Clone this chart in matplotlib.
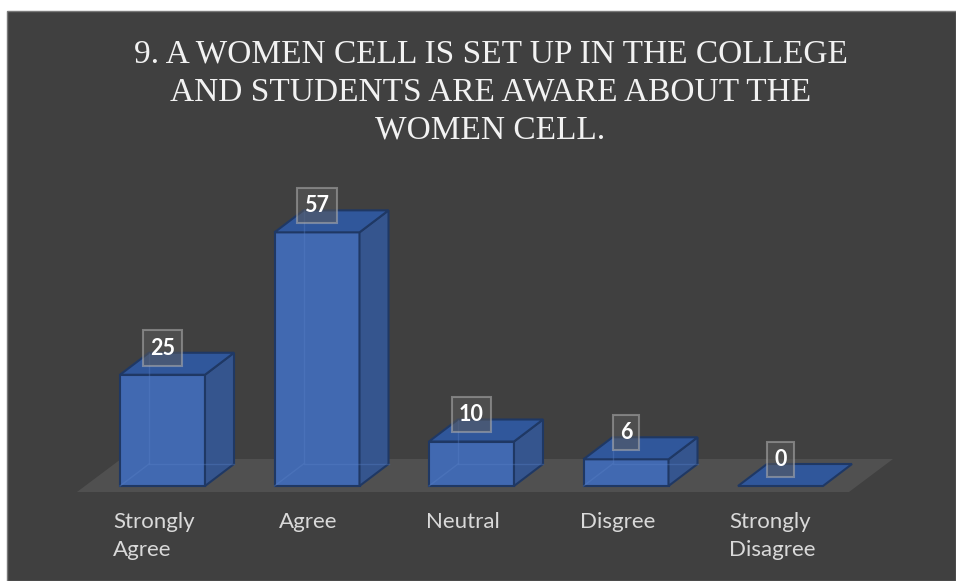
import matplotlib
matplotlib.use("Agg")
import matplotlib.pyplot as plt
from matplotlib.patches import Polygon, Rectangle

# Survey responses
categories = ["Strongly\nAgree", "Agree", "Neutral", "Disgree", "Strongly\nDisagree"]
values = [25, 57, 10, 6, 0]
title = "9. A WOMEN CELL IS SET UP IN THE COLLEGE\nAND STUDENTS ARE AWARE ABOUT THE\nWOMEN CELL."

W, H, DPI = 956, 581, 100
BG = "#404040"
FLOOR = "#505050"
FRONT = "#4169b1"
SIDE = "#35558e"
TOP = "#30579b"
EDGE = "#1f3864"
TEXT = "#d9d9d9"

fig = plt.figure(figsize=(W / DPI, H / DPI), dpi=DPI, facecolor="white")

ax = fig.add_axes([0, 0, 1, 1])
ax.set_facecolor("none")
ax.set_axis_off()

# chart area panel
ax.add_patch(Rectangle((7 / W, 0), 1 - 7 / W, 1 - 11 / H, transform=fig.transFigure,
                       facecolor=BG, edgecolor="#7a7a7a", linewidth=1.0, zorder=0))

# pixel scales: category spacing 154.5 px, 4.45 px per response
step_px, unit_px = 154.5, 4.45
x0_px, base_px = 162.5, H - 486
ax.set_xlim(-x0_px / step_px, (W - x0_px) / step_px)
ax.set_ylim(-base_px / unit_px, (H - base_px) / unit_px)

half_w = 42.5 / step_px               # half bar width
dx, dy = 29 / step_px, 22 / unit_px   # bar depth offsets

# floor plane
f_front, f_back = -6 / unit_px, 27 / unit_px
f_left, f_right = -85.5 / step_px, 686.5 / step_px
f_dx = 44 / step_px
ax.add_patch(Polygon([(f_left, f_front), (f_right, f_front),
                      (f_right + f_dx, f_back), (f_left + f_dx, f_back)],
                     closed=True, facecolor=FLOOR, edgecolor="none", zorder=1))


def bar3d(xc, v):
    l, r = xc - half_w, xc + half_w
    if v <= 0:
        ax.add_patch(Polygon([(l, 0), (r, 0), (r + dx, dy), (l + dx, dy)], closed=True,
                             facecolor=TOP, edgecolor=EDGE, linewidth=1.5, zorder=3))
        return
    # hidden back edges seen through the translucent faces
    ax.plot([l + dx, l + dx, r + dx], [v + dy, dy, dy], color="#5a82c8", lw=1.0,
            alpha=0.35, zorder=4)
    ax.plot([l, l + dx], [0, dy], color="#5a82c8", lw=1.0, alpha=0.35, zorder=4)
    ax.add_patch(Polygon([(l, 0), (r, 0), (r, v), (l, v)], closed=True,
                         facecolor=FRONT, edgecolor=EDGE, linewidth=1.5, zorder=3))
    ax.add_patch(Polygon([(r, 0), (r + dx, dy), (r + dx, v + dy), (r, v)], closed=True,
                         facecolor=SIDE, edgecolor=EDGE, linewidth=1.5, zorder=3))
    ax.add_patch(Polygon([(l, v), (r, v), (r + dx, v + dy), (l + dx, v + dy)], closed=True,
                         facecolor=TOP, edgecolor=EDGE, linewidth=1.5, zorder=3))


for i, v in enumerate(values):
    bar3d(i, v)
    ax.annotate(str(v), (i, v), xytext=(0, 19.2), textcoords="offset points",
                ha="center", va="center", fontsize=15.5, fontweight="bold",
                family="Lato", color="white", zorder=6,
                bbox=dict(boxstyle="square,pad=0.33", facecolor="#5a5a5a", alpha=0.55,
                          edgecolor="#b0b0b0", linewidth=1.5))
    ax.annotate(categories[i], (i, 0), xytext=(-6, -18.5), textcoords="offset points",
                ha="center", va="top", multialignment="left", fontsize=16,
                family="Lato", color=TEXT, linespacing=1.5, zorder=6)

fig.text(490.5 / W, 1 - 39 / H, title, ha="center", va="top", multialignment="center",
         fontsize=24, family="Liberation Serif", color="#f2f2f2", linespacing=1.32)

fig.savefig("out.png", dpi=DPI, facecolor="white")
